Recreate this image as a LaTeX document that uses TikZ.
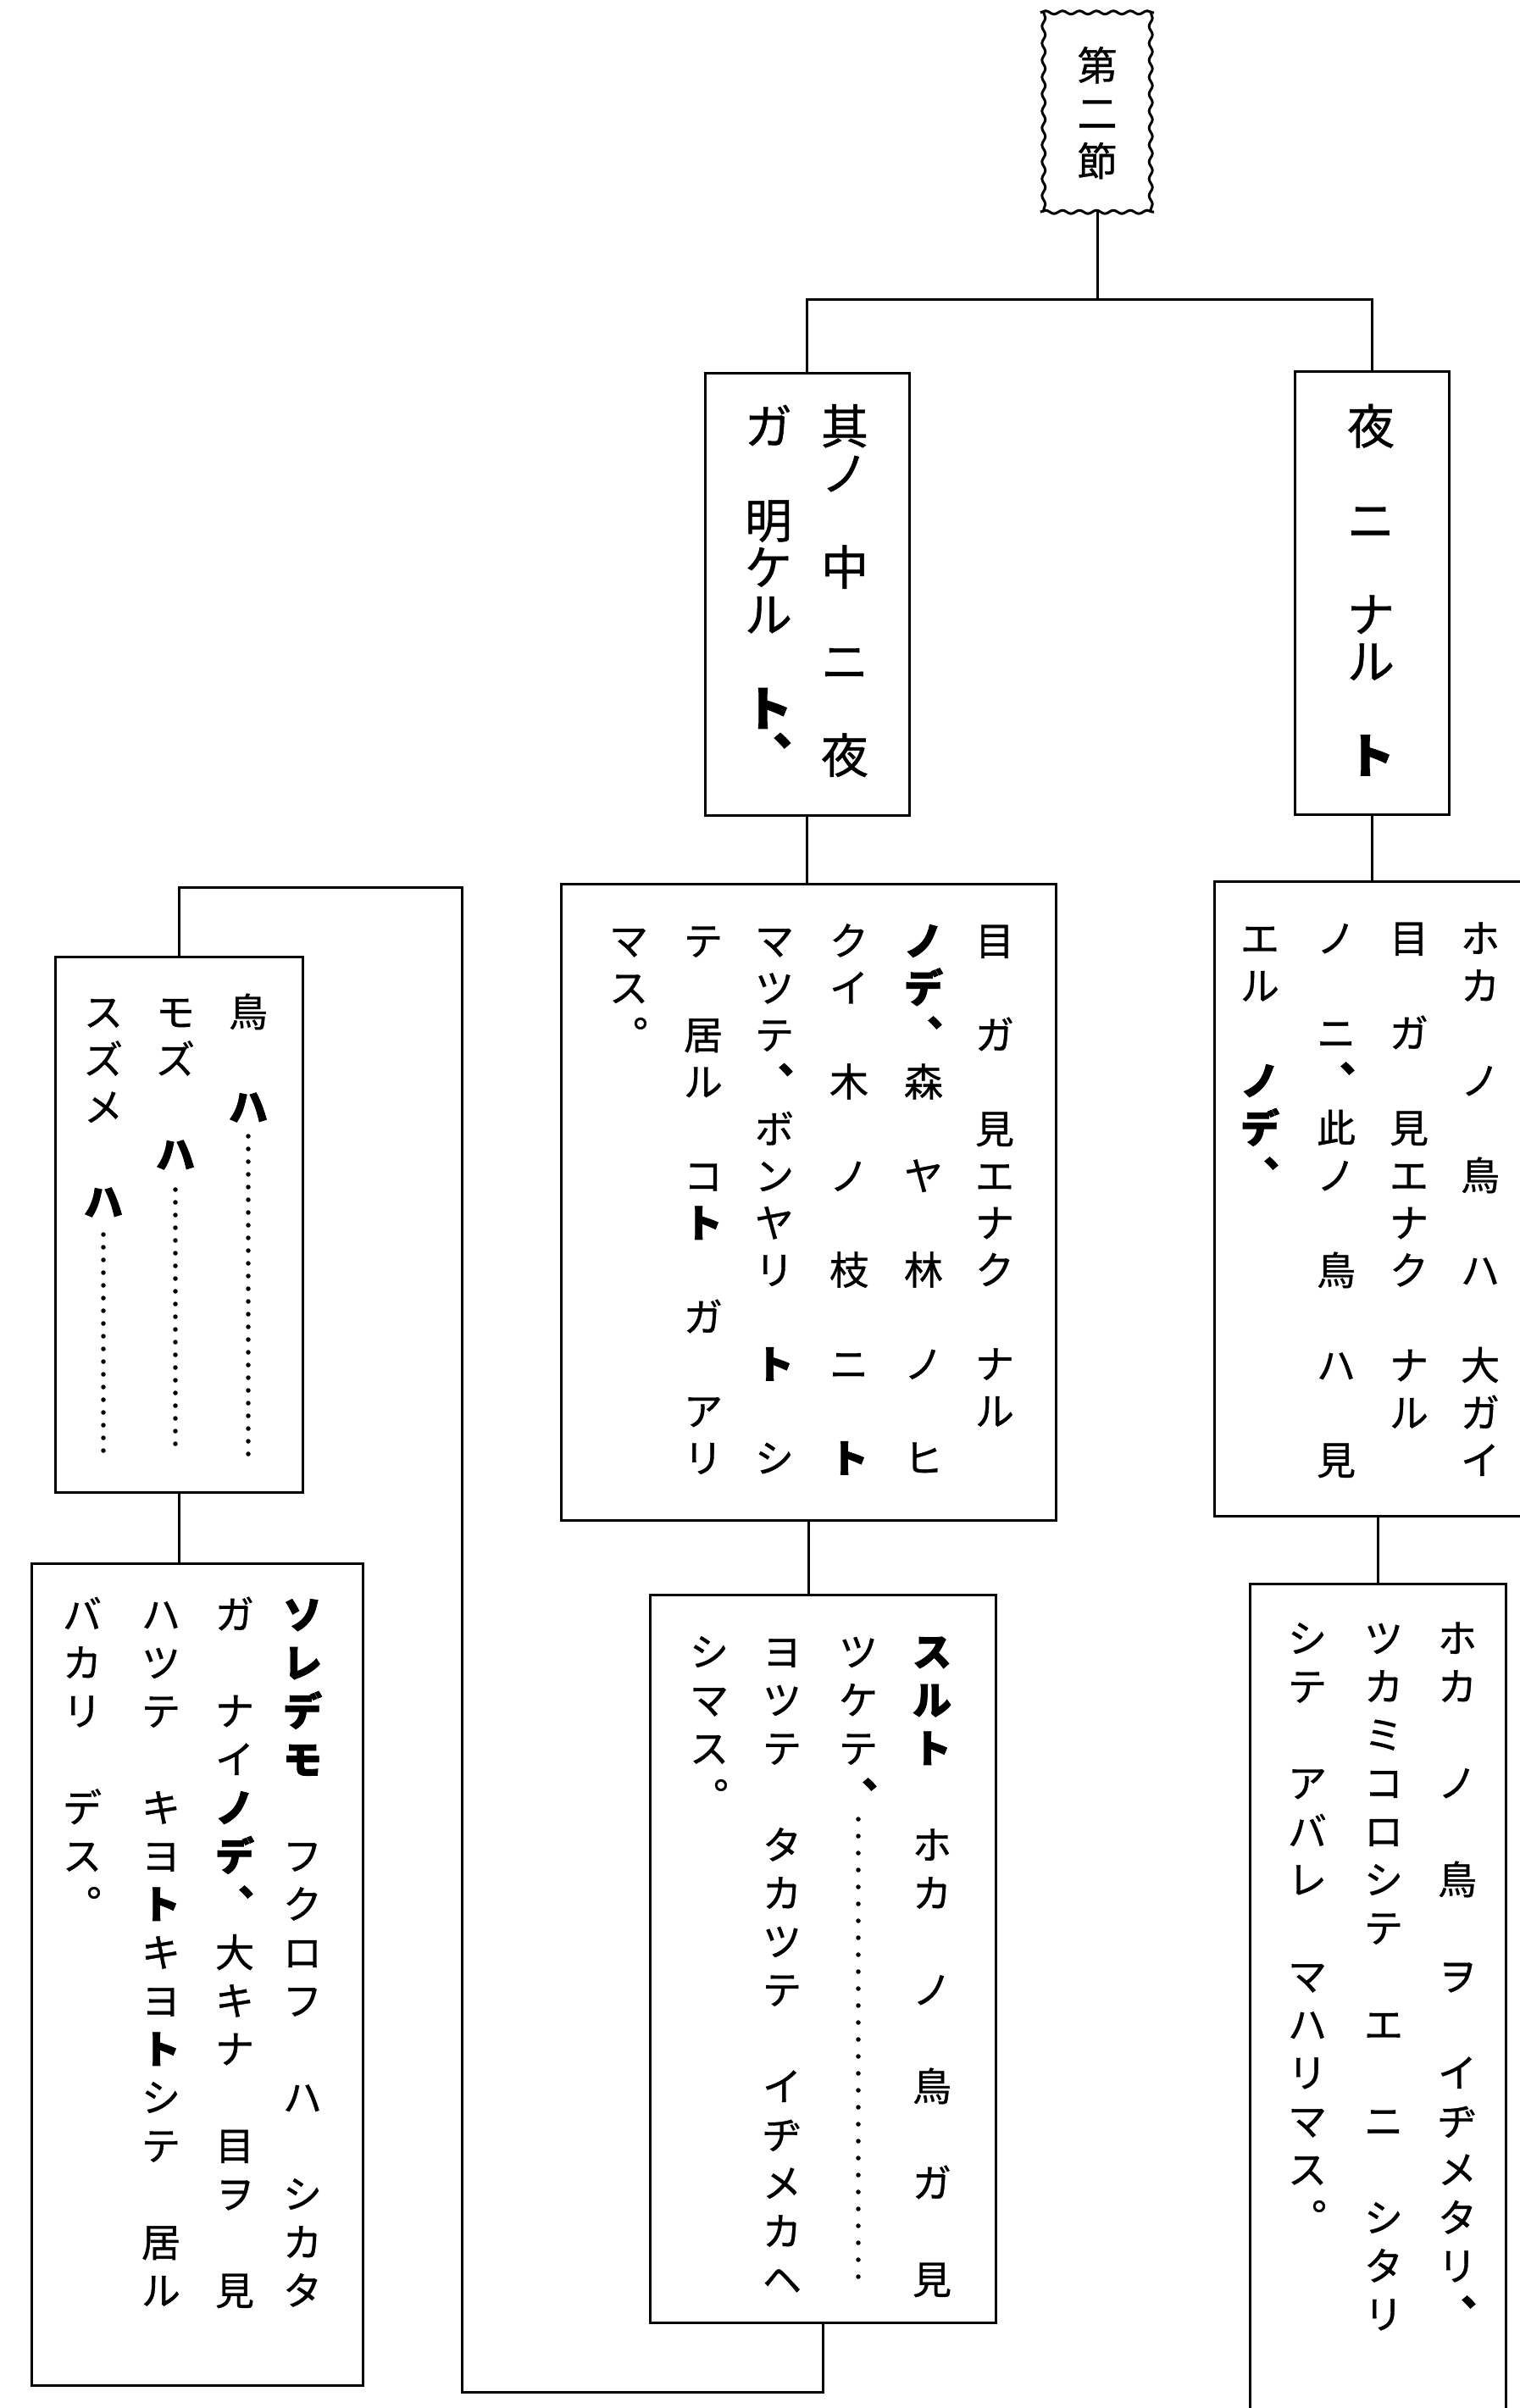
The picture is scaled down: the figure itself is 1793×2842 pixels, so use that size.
\documentclass[tikz,border=0pt]{standalone}
\usepackage{fontspec}
\newfontfamily\jp{Noto Sans CJK JP}[FakeBold=0.8, BoldFeatures={FakeBold=1.8}]
\usetikzlibrary{decorations.pathmorphing}
\newcommand\B[1]{{\bfseries #1}}
\newcommand\vcol[6]{%
  \foreach \pp/\cc [count=\kk] in {#6} {\node[#5] (#1-\kk) at (#2,{#3+\pp*#4}) {\cc};}}
\tikzset{
  jch/.style={inner sep=0pt, text height=40.5pt, text depth=5.5pt, font=\jp\fontsize{46}{46}\selectfont},
  jbig/.style={inner sep=0pt, text height=49pt, text depth=7pt, font=\jp\fontsize{56}{56}\selectfont},
  jtop/.style={inner sep=0pt, text height=41pt, text depth=5.5pt, font=\jp\fontsize{47}{47}\selectfont},
  jbox/.style={draw, line width=3pt, inner sep=0pt},
  conn/.style={line width=3pt},
  wavy/.style={decorate, decoration={snake, amplitude=2pt, segment length=20pt}},
  leader/.style={line width=5.5pt, line cap=round, dash pattern=on 0pt off 15pt}
}
\begin{document}
\begin{tikzpicture}[x=1pt,y=-1pt]
\fill[white] (0,0) rectangle (1793,2842);
\useasboundingbox (0,0) rectangle (1793,2842);

% boxes
\node[inner sep=0pt, minimum width=126pt, minimum height=235pt] (T) at (1295,132.5) {};
\draw[conn,wavy] ([xshift=-4pt]T.north west) -- ([xshift=4pt]T.north east);
\draw[conn,wavy] ([xshift=-4pt]T.south west) -- ([xshift=4pt]T.south east);
\draw[conn,wavy] (T.north west) -- (T.south west);
\draw[conn,wavy] (T.north east) -- (T.south east);
\node[jbox, minimum width=241pt, minimum height=522pt] (A) at (952.5,701) {};
\node[jbox, minimum width=182pt, minimum height=523pt] (B) at (1619,699.5) {};
\node[jbox, minimum width=584pt, minimum height=751pt] (C) at (954,1418.5) {};
\node[jbox, minimum width=367pt, minimum height=749pt] (D) at (1616.5,1414.5) {};
\node[jbox, minimum width=408pt, minimum height=859pt] (E) at (971,2311.5) {};
\node[jbox, minimum width=302pt, minimum height=1001pt] (F) at (1626,2369.5) {};
\node[jbox, minimum width=292pt, minimum height=632pt] (G) at (211,1445) {};
\node[jbox, minimum width=391pt, minimum height=970pt] (H) at (232.5,2330) {};

% connectors
\coordinate (j1) at (1295,353);
\draw[conn] (T.south) -- (j1);
\draw[conn] (A.north) |- (j1) -| (B.north);
\draw[conn] (A.south) -- (A.south |- C.north);
\draw[conn] (B.south) -- (B.south |- D.north);
\draw[conn] (C.south) -- (C.south |- E.north);
\draw[conn] (F.north |- D.south) -- (F.north);
\coordinate (l1) at (545,2823);
\coordinate (l2) at (545,1047);
\draw[conn] (E.south) |- (l1) -- (l2) -| (G.north);
\draw[conn] (G.south) -- (G.south |- H.north);

% texts
\vcol{T1}{1295}{77}{56.5}{jtop}{0/第,1/二,2/節}
\vcol{A1}{997}{503}{55.5}{jbig}{0/其,1/ノ,3/中,5/ニ,7/夜}
\vcol{A2}{907}{503}{55.5}{jbig}{0/ガ,2/明,3/ケ,4/ル,6/\B{ト},7/\B{︑}}
\vcol{B1}{1618}{503}{55.5}{jbig}{0/夜,2/ニ,4/ナ,5/ル,7/\B{ト}}

\vcol{C1}{1174}{1110}{55.5}{jch}{0/目,2/ガ,4/見,5/エ,6/ナ,7/ク,9/ナ,10/ル}
\vcol{C2}{1090}{1110}{55.5}{jch}{0/\B{ノ},1/\B{デ},2/\B{︑},3/森,5/ヤ,7/林,9/ノ,11/ヒ}
\vcol{C3}{1002}{1110}{55.5}{jch}{0/ク,1/イ,3/木,5/ノ,7/枝,9/ニ,11/\B{ト}}
\vcol{C4}{914}{1110}{55.5}{jch}{0/マ,1/ツ,2/テ,3/\B{︑},4/ボ,5/ン,6/ヤ,7/リ,9/\B{ト},11/シ}
\vcol{C5}{830}{1110}{55.5}{jch}{0/テ,2/居,3/ル,5/コ,6/\B{ト},8/ガ,10/ア,11/リ}
\vcol{C6}{742}{1110}{55.5}{jch}{0/マ,1/ス,2/︒}

\vcol{D1}{1747}{1107}{56}{jch}{0/ホ,1/カ,3/ノ,5/鳥,7/ハ,9/大,10/ガ,11/イ}
\vcol{D2}{1663}{1107}{56}{jch}{0/目,2/ガ,4/見,5/エ,6/ナ,7/ク,9/ナ,10/ル}
\vcol{D3}{1577}{1107}{56}{jch}{0/ノ,2/ニ,3/\B{︑},4/此,5/ノ,7/鳥,9/ハ,11/見}
\vcol{D4}{1487}{1107}{56}{jch}{0/エ,1/ル,3/\B{ノ},4/\B{デ},5/\B{︑}}

\vcol{E1}{1100}{1949}{57}{jch}{0/\B{ス},1/\B{ル},2/\B{ト},4/ホ,5/カ,7/ノ,9/鳥,11/ガ,13/見}
\vcol{E2}{1013}{1949}{57}{jch}{0/ツ,1/ケ,2/テ,3/\B{︑}}
\vcol{E3}{923}{1949}{57}{jch}{0/ヨ,1/ツ,2/テ,4/タ,5/カ,6/ツ,7/テ,9/イ,10/ヂ,11/メ,12/カ,13/ヘ}
\vcol{E4}{837}{1949}{57}{jch}{0/シ,1/マ,2/ス,3/︒}
\draw[leader, dash pattern=on 0pt off 20pt] (1013,2147) -- (1013,2690);

\vcol{F1}{1720}{1933}{57}{jch}{0/ホ,1/カ,3/ノ,5/鳥,7/ヲ,9/イ,10/ヂ,11/メ,12/タ,13/リ,14/\B{︑}}
\vcol{F2}{1633}{1933}{57}{jch}{0/ツ,1/カ,2/ミ,3/コ,4/ロ,5/シ,6/テ,8/エ,10/ニ,12/シ,13/タ,14/リ}
\vcol{F3}{1543}{1933}{57}{jch}{0/シ,1/テ,3/ア,4/バ,5/レ,7/マ,8/ハ,9/リ,10/マ,11/ス,12/︒}

\vcol{G1}{293}{1194}{56}{jch}{0/鳥,2/\B{ハ}}
\vcol{G2}{207}{1194}{56}{jch}{0/モ,1/ズ,3/\B{ハ}}
\vcol{G3}{122}{1194}{56}{jch}{0/ス,1/ズ,2/メ,4/\B{ハ}}
\draw[leader] (293,1341) -- (293,1720);
\draw[leader] (207,1404) -- (207,1718);
\draw[leader] (122,1457) -- (122,1720);

\vcol{H1}{357}{1905}{57}{jch}{0/\B{ソ},1/\B{レ},2/\B{デ},3/\B{モ},5/フ,6/ク,7/ロ,8/フ,10/ハ,12/シ,13/カ,14/タ}
\vcol{H2}{277}{1905}{57}{jch}{0/ガ,2/ナ,3/イ,4/\B{ノ},5/\B{デ},6/\B{︑},7/大,8/キ,9/ナ,11/目,12/ヲ,14/見}
\vcol{H3}{190}{1905}{57}{jch}{0/ハ,1/ツ,2/テ,4/キ,5/ヨ,6/\B{ト},7/キ,8/ヨ,9/\B{ト},10/シ,11/テ,13/居,14/ル}
\vcol{H4}{97}{1905}{57}{jch}{0/バ,1/カ,2/リ,4/デ,5/ス,6/︒}
\end{tikzpicture}
\end{document}
